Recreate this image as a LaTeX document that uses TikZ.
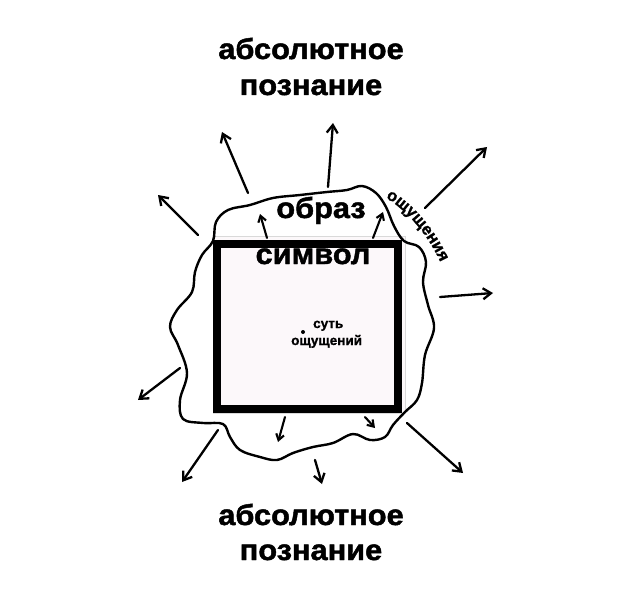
\documentclass[tikz,border=0pt]{standalone}
\usepackage{fontspec}
\setmainfont{Liberation Sans}[BoldFeatures={FakeBold=1.2}]
\newfontfamily\hel{Liberation Sans}[FakeStretch=1.06,BoldFeatures={FakeBold=1.6}]
\usetikzlibrary{arrows.meta,decorations.text}
\definecolor{boxfill}{HTML}{FCF8FA}
\begin{document}
\begin{tikzpicture}[x=1pt,y=-1pt,
  wave/.style={line width=2.4pt,line join=round},
  arr/.style={line width=2.3pt,line cap=round,-{Straight Barb[length=8pt,width=11pt,line width=2.3pt]}},
  sarr/.style={line width=2.1pt,line cap=round,-{Straight Barb[length=6pt,width=8pt,line width=2.1pt]}},
  big/.style={font=\hel\bfseries\fontsize{29}{35.5}\selectfont,inner sep=0pt,anchor=base},
  small/.style={font=\bfseries\fontsize{13.5}{17}\selectfont,inner sep=0pt}]
\useasboundingbox (0,0) rectangle (633,594);
\fill[white] (0,0) rectangle (633,594);
% light box and frame
\filldraw[fill=boxfill,draw=black!15,line width=0.8pt] (213,236) rectangle (405,413);
\draw[line width=8pt] (217,244) rectangle (398,409);
% wavy blob
\draw[wave] plot[smooth cycle,tension=0.6] coordinates {
 (213,241) (216,222) (228,210) (250,205) (273,198) (300,195) (327,192) (347,190)
 (362,186) (376,193) (386,207) (394,226) (404,241) (419,247) (426,262) (423,282)
 (428,305) (434,328) (425,355) (422,383) (417,400) (405,412) (393,425) (385,437)
 (370,440) (353,434) (333,443) (313,447) (293,453) (277,460) (260,457) (240,450)
 (230,437) (223,424) (203,423) (183,419) (180,400) (187,373) (178,345) (170,327)
 (177,310) (192,292) (195,272) (202,255)};
% texts
\node[big] (t1a) at (311,59) {абсолютное};
\node[big] (t1b) at (311,95) {познание};
\node[big] (t2a) at (311,525) {абсолютное};
\node[big] (t2b) at (311,560) {познание};
\node[big] (obr) at (321,218) {образ};
\node[big] (sym) at (313,264) {символ};
\node[small,anchor=base west] (sut) at (313,328) {суть};
\node[small,anchor=base west] (osh) at (291,345) {ощущений};
\fill (303,332) circle (2pt);
\path[decorate,decoration={text along path,text align=center,
  text={|\bfseries\fontsize{16.5}{18}\selectfont|ощущения}}]
  (380,195) .. controls (402,205) and (428,232) .. (443,268);
% outer arrows
\coordinate (a1s) at (198,235); \coordinate (a1e) at (158,195);
\coordinate (a2s) at (248,193); \coordinate (a2e) at (222,132);
\coordinate (a3s) at (328,187); \coordinate (a3e) at (333,123);
\coordinate (a4s) at (425,208); \coordinate (a4e) at (487,147);
\coordinate (a5s) at (440,297); \coordinate (a5e) at (493,293);
\coordinate (a6s) at (407,423); \coordinate (a6e) at (463,473);
\coordinate (a7s) at (315,460); \coordinate (a7e) at (322,484);
\coordinate (a8s) at (218,430); \coordinate (a8e) at (182,482);
\coordinate (a9s) at (180,368); \coordinate (a9e) at (138,400);
\foreach \i in {1,...,9} {\draw[arr] (a\i s) -- (a\i e);}
% inner arrows
\coordinate (b1s) at (267,238); \coordinate (b1e) at (260,214);
\coordinate (b2s) at (373,238); \coordinate (b2e) at (383,212);
\coordinate (b3s) at (285,417); \coordinate (b3e) at (278,442);
\coordinate (b4s) at (365,417); \coordinate (b4e) at (375,428);
\foreach \i in {1,...,4} {\draw[sarr] (b\i s) -- (b\i e);}
\end{tikzpicture}
\end{document}
